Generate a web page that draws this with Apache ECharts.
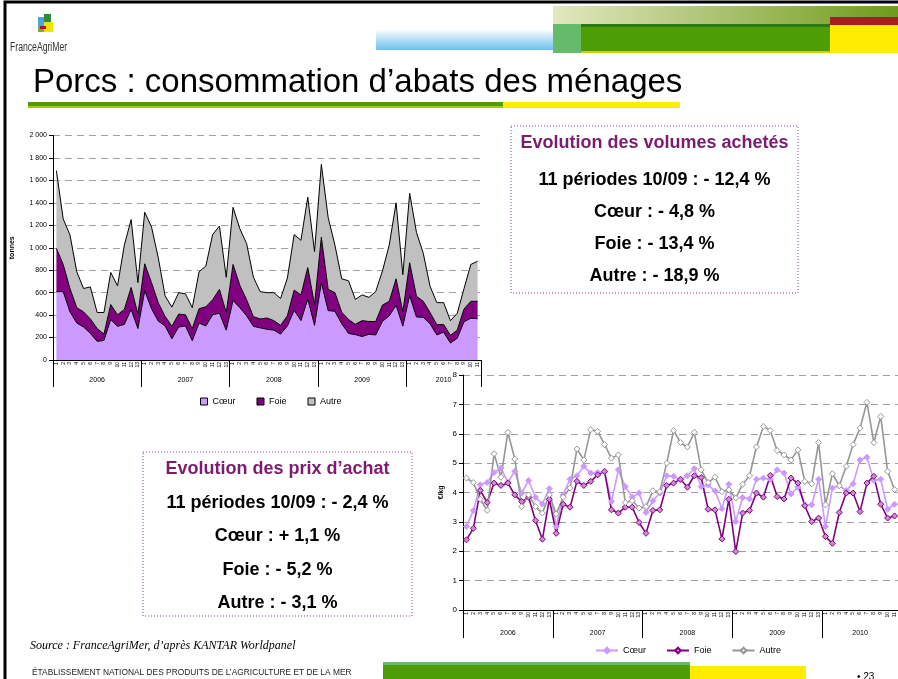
<!DOCTYPE html>
<html>
<head>
<meta charset="utf-8">
<script src="https://cdn.jsdelivr.net/npm/echarts@6/dist/echarts.min.js"></script>
<style>
html, body { margin: 0; padding: 0; background: #fff; }
#main { width: 898px; height: 679px; }
</style>
</head>
<body>
<div id="main"></div>
<script>
// périodes de 4 semaines (13 par an, 11 pour 2010)
var years = ['2006', '2007', '2008', '2009', '2010'];
var periodsPerYear = [13, 13, 13, 13, 11];

// volumes achetés (tonnes), empilés
var coeurVol = [609,609,429,329,294,237,166,174,360,300, 317,451,280,617,457,346,303,189,294,303,
                172,329,303,403,417,266,531,466,394,300, 286,274,266,231,303,443,351,543,309,689,
                440,434,323,237,226,209,229,223,345,394, 487,302,575,383,380,323,223,248,151,194,
                340,372,368];
var foieVol = [385,242,208,137,135,129,114,57,134,103, 134,195,129,240,232,163,86,111,115,100,
               108,128,171,134,212,157,320,200,143,86, 80,100,85,78,91,180,229,280,185,405,
               190,166,103,124,92,142,114,120,145,129, 236,127,291,185,143,100,92,69,69,72,
               114,151,155];
var autreVol = [692,406,477,320,208,285,143,192,286,257, 572,605,280,460,497,400,182,171,191,186,
                186,329,363,580,565,314,509,504,500,351, 243,226,249,239,336,494,486,628,472,649,
                640,423,297,345,222,229,215,266,304,503, 677,331,620,569,428,234,196,194,130,150,
                182,328,357];

// prix d'achat (€/kg)
var coeurPrix = [2.84,3.39,4.26,4.34,4.68,4.83,4.35,4.72,3.98,4.41, 3.84,3.61,4.13,2.84,3.92,4.45,4.57,4.89,4.66,4.68,
                 4.70,3.69,4.77,4.20,3.84,3.98,3.32,3.72,3.98,4.57, 4.55,4.43,4.57,4.81,4.20,4.26,4.05,3.45,4.28,3.01,
                 3.83,3.78,4.45,4.49,4.45,4.77,4.66,3.95,4.18,3.58, 3.58,4.45,2.84,4.15,4.23,4.07,4.30,5.11,5.20,4.41,
                 4.45,3.43,3.60];
var foiePrix = [2.39,2.78,4.07,3.66,4.32,4.24,4.32,3.92,3.69,3.84, 3.05,2.41,3.77,2.61,3.60,3.50,4.38,4.24,4.38,4.60,
                4.72,3.41,3.30,3.50,3.50,2.98,2.61,3.39,3.41,4.24, 4.32,4.45,4.18,4.57,4.51,3.43,3.41,2.42,3.77,1.99,
                3.30,3.39,3.98,3.84,4.58,3.86,3.78,4.49,4.32,3.55, 3.01,3.13,2.50,2.27,3.32,3.98,3.98,3.35,4.32,4.55,
                3.60,3.13,3.20];
var autrePrix = [4.49,4.34,3.77,3.39,5.32,4.52,6.05,5.14,3.52,3.92, 3.52,3.30,3.92,3.27,3.84,4.15,5.48,5.11,6.14,6.08,
                 5.63,5.17,5.28,3.66,3.72,3.47,3.52,4.06,4.03,5.00, 6.11,5.70,5.55,6.05,4.77,4.34,4.52,4.03,4.09,3.81,
                 4.28,4.57,5.55,6.25,6.11,5.43,5.28,5.11,5.45,4.38, 4.30,5.70,3.58,4.64,4.23,4.89,5.63,6.19,7.07,5.70,
                 6.59,4.72,4.10];

var volLines = ['Evolution des volumes achetés', '11 périodes 10/09 : - 12,4 %', 'Cœur : - 4,8 %', 'Foie : - 13,4 %', 'Autre : - 18,9 %'];
var prixLines = ['Evolution des prix d\u2019achat', '11 périodes 10/09 : - 2,4 %', 'Cœur : + 1,1 %', 'Foie : - 5,2 %', 'Autre : - 3,1 %'];

var periods = [], yearStart = [], yearMid = [];
years.forEach(function (y, i) {
    yearStart.push(periods.length);
    yearMid.push(periods.length + Math.floor(periodsPerYear[i] / 2));
    for (var p = 1; p <= periodsPerYear[i]; p++) periods.push(y + '-' + p);
});

var FONT = 'Liberation Sans, Arial, sans-serif';
var COEUR = '#CC99FF', FOIE = '#800080', AUTRE = '#C0C0C0';

function periodAxis(grid) {
    return {
        type: 'category', gridIndex: grid, data: periods, boundaryGap: true,
        axisLine: { lineStyle: { color: '#000', width: 1 } },
        axisTick: { length: 5, interval: 0, lineStyle: { color: '#000' } },
        axisLabel: {
            interval: 0, rotate: 90, fontSize: 5, margin: 2, color: '#000', fontFamily: FONT,
            formatter: function (v) { return v.split('-')[1]; }
        },
        splitLine: { show: false }
    };
}
function yearAxis(grid, tickLen, margin) {
    return {
        type: 'category', gridIndex: grid, data: periods, boundaryGap: true, position: 'bottom',
        axisLine: { show: true, lineStyle: { color: '#000', opacity: 0 } },
        axisTick: {
            show: true, length: tickLen, lineStyle: { color: '#000', opacity: 1, width: 1 },
            interval: function (idx) { return yearStart.indexOf(idx) >= 0; }
        },
        axisLabel: {
            fontSize: 7, margin: margin, color: '#000', fontFamily: FONT,
            interval: function (idx) { return yearMid.indexOf(idx) >= 0; },
            formatter: function (v) { return v.split('-')[0]; }
        },
        splitLine: { show: false }
    };
}
var dashed = { show: true, lineStyle: { color: '#A0A0A0', type: [7, 5], width: 1 } };

function volSeries(name, data, color) {
    return {
        name: name, type: 'line', xAxisIndex: 0, yAxisIndex: 0, stack: 'vol', data: data,
        symbol: 'none', lineStyle: { color: '#000', width: 1 },
        areaStyle: { color: color, opacity: 1 }, itemStyle: { color: color }
    };
}
function prixSeries(name, data, line, fill) {
    return {
        name: name, type: 'line', xAxisIndex: 2, yAxisIndex: 1, data: data,
        symbol: 'diamond', symbolSize: 6, showAllSymbol: true,
        lineStyle: { color: line, width: 1.6 },
        itemStyle: { color: fill, borderColor: line, borderWidth: 1 }
    };
}

function textBox(x, y, w, h, lines, ys) {
    var els = [{
        type: 'rect', shape: { x: x, y: y, width: w, height: h },
        style: { fill: '#fff', stroke: '#8B3A8B', lineWidth: 1, lineDash: [1, 2] }
    }];
    lines.forEach(function (t, i) {
        els.push({
            type: 'text', x: x + w / 2, y: ys[i],
            style: {
                text: t, align: 'center', verticalAlign: 'middle', fontFamily: FONT,
                fontWeight: 'bold', fontSize: 18, fill: i === 0 ? '#7B1C6E' : '#000'
            }
        });
    });
    return els;
}

var NARROW = 'Liberation Sans Narrow, Arial Narrow, Liberation Sans, sans-serif';
var graphics = [
    // cadre
    { type: 'polyline', shape: { points: [[5, 679], [5, 2], [898, 2]] }, style: { stroke: '#000', lineWidth: 3, fill: null } },
    // logo
    { type: 'rect', shape: { x: 38, y: 17, width: 6, height: 10 }, style: { fill: '#4AA6D8' } },
    { type: 'rect', shape: { x: 44, y: 14, width: 7, height: 8 }, style: { fill: '#2E8B3A' } },
    { type: 'rect', shape: { x: 44, y: 22, width: 9, height: 10 }, style: { fill: '#F2E200' } },
    { type: 'rect', shape: { x: 38, y: 27, width: 6, height: 5 }, style: { fill: '#6CB040' } },
    { type: 'rect', shape: { x: 40, y: 26, width: 6, height: 3 }, style: { fill: '#B01818' } },
    { type: 'text', x: 10, y: 48, scaleX: 0.72, style: { text: 'FranceAgriMer', fontFamily: NARROW, fontSize: 12, fill: '#333', verticalAlign: 'middle' } },
    // bandeau haut
    { type: 'rect', shape: { x: 376, y: 29, width: 177, height: 21 },
      style: { fill: new echarts.graphic.LinearGradient(0, 0, 0, 1, [{ offset: 0, color: '#FFFFFF' }, { offset: 1, color: '#6CC0EE' }]) } },
    { type: 'rect', shape: { x: 553, y: 6, width: 345, height: 18 },
      style: { fill: new echarts.graphic.LinearGradient(0, 0, 1, 0, [{ offset: 0, color: '#E2E8BE' }, { offset: 1, color: '#6F9A1C' }]) } },
    { type: 'rect', shape: { x: 830, y: 17, width: 68, height: 8 }, style: { fill: '#A41E22' } },
    { type: 'rect', shape: { x: 553, y: 24, width: 277, height: 29 }, style: { fill: '#4E9C06' } },
    { type: 'rect', shape: { x: 553, y: 24, width: 277, height: 3 }, style: { fill: '#2F7A10' } },
    { type: 'rect', shape: { x: 553, y: 24, width: 28, height: 29 }, style: { fill: '#66BB6A' } },
    { type: 'rect', shape: { x: 581, y: 51, width: 249, height: 2 }, style: { fill: '#C8D400' } },
    { type: 'rect', shape: { x: 830, y: 25, width: 68, height: 28 }, style: { fill: '#FFEC00' } },
    // titre
    { type: 'text', x: 33, y: 83, style: { text: 'Porcs : consommation d\u2019abats des ménages', fontFamily: FONT, fontSize: 33, fill: '#000', verticalAlign: 'middle' } },
    { type: 'rect', shape: { x: 28, y: 102, width: 475, height: 5 }, style: { fill: '#4E9C06' } },
    { type: 'rect', shape: { x: 28, y: 106, width: 475, height: 2 }, style: { fill: '#A8C800' } },
    { type: 'rect', shape: { x: 503, y: 102, width: 177, height: 6 }, style: { fill: '#FFEC00' } },
    // source + pied de page
    { type: 'text', x: 30, y: 646, style: { text: 'Source : FranceAgriMer, d\u2019après KANTAR Worldpanel', fontFamily: 'Liberation Serif, Times New Roman, serif', fontStyle: 'italic', fontSize: 12, fill: '#000', verticalAlign: 'middle' } },
    { type: 'text', x: 32, y: 673, scaleX: 0.93, style: { text: 'ÉTABLISSEMENT NATIONAL DES PRODUITS DE L\u2019AGRICULTURE ET DE LA MER', fontFamily: NARROW, fontSize: 9, fill: '#222', verticalAlign: 'middle' } },
    { type: 'rect', shape: { x: 383, y: 662, width: 307, height: 17 }, style: { fill: '#4E9C06' } },
    { type: 'rect', shape: { x: 383, y: 662, width: 307, height: 3 }, style: { fill: '#66BB6A' } },
    { type: 'rect', shape: { x: 690, y: 666, width: 116, height: 13 }, style: { fill: '#FFEC00' } },
    { type: 'text', x: 857, y: 677, style: { text: '\u2022 23', fontFamily: FONT, fontSize: 10, fill: '#000', verticalAlign: 'middle' } }
];
graphics = graphics.concat(textBox(511, 126, 287, 167, volLines, [143, 180, 212, 244, 276]));
graphics = graphics.concat(textBox(143, 452, 269, 164, prixLines, [469, 503, 536, 570, 603]));

var option = {
    animation: false,
    backgroundColor: '#fff',
    textStyle: { fontFamily: FONT },
    grid: [
        { left: 53, top: 135.5, width: 428, height: 224.5 },
        { left: 463, top: 375, width: 441, height: 235 }
    ],
    xAxis: [periodAxis(0), yearAxis(0, 27, 17), periodAxis(1), yearAxis(1, 28, 20)],
    yAxis: [
        {
            type: 'value', gridIndex: 0, min: 0, max: 2000, interval: 200,
            axisLine: { show: true, lineStyle: { color: '#000' } },
            axisTick: { show: true, length: 4, lineStyle: { color: '#000' } },
            axisLabel: { fontSize: 7, margin: 6, color: '#000', formatter: function (v) { return String(v).replace(/\B(?=(\d{3})+(?!\d))/g, ' '); } },
            splitLine: dashed,
            name: 'tonnes', nameLocation: 'middle', nameRotate: 90, nameGap: 37,
            nameTextStyle: { fontSize: 7, fontWeight: 'bold', color: '#000' }
        },
        {
            type: 'value', gridIndex: 1, min: 0, max: 8, interval: 1,
            axisLine: { show: true, lineStyle: { color: '#000' } },
            axisTick: { show: true, length: 4, lineStyle: { color: '#000' } },
            axisLabel: { fontSize: 8, margin: 6, color: '#000' },
            splitLine: dashed,
            name: '€/kg', nameLocation: 'middle', nameRotate: 90, nameGap: 18,
            nameTextStyle: { fontSize: 7, fontWeight: 'bold', color: '#000' }
        }
    ],
    legend: [
        {
            left: 200, top: 397, padding: 0, itemWidth: 7, itemHeight: 7, itemGap: 21,
            textStyle: { fontSize: 9, color: '#000' }, selectedMode: false,
            data: [
                { name: 'Cœur', icon: 'rect', itemStyle: { color: COEUR, borderColor: '#000', borderWidth: 1 } },
                { name: 'Foie', icon: 'rect', itemStyle: { color: FOIE, borderColor: '#000', borderWidth: 1 } },
                { name: 'Autre', icon: 'rect', itemStyle: { color: AUTRE, borderColor: '#000', borderWidth: 1 } }
            ]
        },
        {
            left: 595, top: 646, padding: 0, itemWidth: 22, itemHeight: 7, itemGap: 20,
            textStyle: { fontSize: 9, color: '#000' }, selectedMode: false,
            data: ['p_Cœur', 'p_Foie', 'p_Autre'],
            formatter: function (n) { return n.replace('p_', ''); }
        }
    ],
    series: [
        volSeries('Cœur', coeurVol, COEUR),
        volSeries('Foie', foieVol, FOIE),
        volSeries('Autre', autreVol, AUTRE),
        prixSeries('p_Cœur', coeurPrix, '#CC99FF', '#CC99FF'),
        prixSeries('p_Foie', foiePrix, '#800080', '#D08AD0'),
        prixSeries('p_Autre', autrePrix, '#969696', '#FFFFFF')
    ],
    graphic: graphics
};

var chart = echarts.init(document.getElementById('main'), null, { renderer: 'canvas' });
chart.setOption(option);
</script>
</body>
</html>
